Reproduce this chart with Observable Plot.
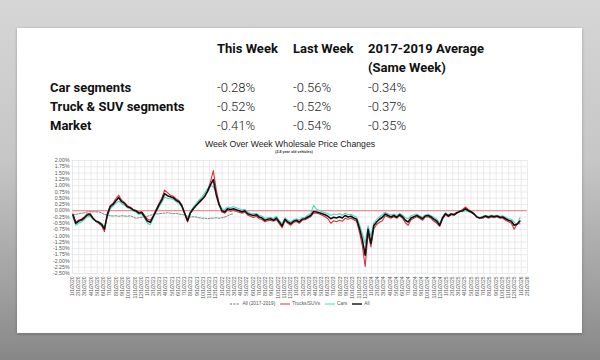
<!DOCTYPE html>
<html>
<head>
<meta charset="utf-8">
<script src="https://cdn.jsdelivr.net/npm/d3@7"></script>
<script src="https://cdn.jsdelivr.net/npm/@observablehq/plot@0.6"></script>
<style>
  html, body { margin: 0; padding: 0; }
  body {
    width: 600px; height: 360px; position: relative; overflow: hidden;
    background: linear-gradient(to bottom, #d6d6d6 0%, #c6c6c6 45%, #a0a0a0 80%, #878787 100%);
    font-family: Roboto, "Liberation Sans", sans-serif;
  }
  #card {
    position: absolute; left: 17px; top: 28px; width: 565px; height: 305px;
    background: #fff; box-shadow: 0 1px 3px rgba(0,0,0,0.25);
  }
  .t { position: absolute; white-space: nowrap; font-size: 13px; line-height: 15px; color: #111; }
  .h { font-weight: 700; }
  .v { font-weight: 300; color: #222; }
  #title { position: absolute; left: 0; width: 580px; top: 139px; text-align: center;
    font-family: "Liberation Sans", Arial, sans-serif; font-size: 8.7px; color: #222; line-height: 10px; }
  #subtitle { position: absolute; left: 0; width: 588px; top: 149.5px; text-align: center;
    font-family: "Liberation Sans", Arial, sans-serif; font-size: 3.6px; color: #333; font-weight: 700; line-height: 4px; }
  #chart { position: absolute; left: 40px; top: 155px; }
  #legend { position: absolute; left: 0; width: 600px; top: 301px; display: flex; justify-content: center; gap: 5px;
    font-family: "Liberation Sans", Arial, sans-serif; font-size: 4.8px; color: #555; line-height: 6px; }
  #legend span.item { display: inline-flex; align-items: center; gap: 2px; }
</style>
</head>
<body>
<div id="card"></div>
<div id="table"></div>
<div id="title">Week Over Week Wholesale Price Changes</div>
<div id="subtitle">(2-8 year old vehicles)</div>
<div id="chart"></div>
<div id="legend"></div>
<script>
// ---- Table data ----
const tableHeaders = ["This Week", "Last Week", "2017-2019 Average"];
const tableHeaderSub = "(Same Week)";
const tableRowLabels = ["Car segments", "Truck & SUV segments", "Market"];
const thisWeek = ["-0.28%", "-0.52%", "-0.41%"];
const lastWeek = ["-0.56%", "-0.52%", "-0.54%"];
const avgSameWeek = ["-0.34%", "-0.37%", "-0.35%"];

// ---- Chart data (bi-weekly readings, % week-over-week) ----
const seriesStart = "2020-01-03";
const seriesStepDays = 14;
const seriesNames = ["All (2017-2019)", "Trucks/SUVs", "Cars", "All"];
const seriesColors = ["#666666", "#e0303f", "#4fd6bd", "#111111"];

const allMarket = [
 -0.17,-0.5,-0.41,-0.37,-0.28,-0.17,-0.15,-0.3,-0.41,-0.46,
 -0.54,-0.73,-0.17,0.16,0.25,0.4,0.52,0.36,0.29,0.16,
 0.12,0.03,-0.01,-0.1,-0.07,-0.24,-0.41,-0.46,-0.24,-0.01,
 0.22,0.42,0.68,0.6,0.56,0.52,0.42,0.36,0.2,-0.1,
 -0.4,-0.08,0.08,0.21,0.34,0.45,0.58,0.77,1.03,1.24,
 0.64,0.24,0,-0.05,0.08,0.05,0.08,0.04,0,-0.05,
 0,-0.12,-0.16,-0.19,-0.16,-0.25,-0.29,-0.38,-0.34,-0.32,
 -0.38,-0.29,-0.45,-0.61,-0.34,-0.45,-0.52,-0.42,-0.38,-0.45,
 -0.34,-0.32,-0.25,-0.19,-0.03,-0.05,-0.08,-0.12,-0.16,-0.22,
 -0.32,-0.26,-0.29,-0.24,-0.29,-0.19,-0.25,-0.22,-0.29,-0.34,
 -0.7,-1.15,-1.77,-0.74,-1.3,-0.6,-0.45,-0.34,-0.26,-0.13,
 -0.19,-0.25,-0.19,-0.26,-0.16,-0.24,-0.38,-0.45,-0.29,-0.24,
 -0.19,-0.25,-0.32,-0.21,-0.19,-0.25,-0.34,-0.42,-0.58,-0.29,
 -0.12,-0.21,-0.13,-0.16,-0.08,-0.03,0,0.08,0,-0.05,
 -0.13,-0.25,-0.29,-0.26,-0.21,-0.26,-0.21,-0.24,-0.21,-0.26,
 -0.25,-0.32,-0.38,-0.42,-0.58,-0.54,-0.41
];
const trucksSUVs = [
 -0.12,-0.45,-0.38,-0.33,-0.25,-0.12,-0.1,-0.28,-0.42,-0.5,
 -0.6,-0.83,-0.12,0.2,0.3,0.48,0.62,0.42,0.33,0.2,
 0.14,0.05,0.02,-0.06,-0.03,-0.18,-0.33,-0.38,-0.2,0.04,
 0.28,0.5,0.82,0.72,0.62,0.58,0.48,0.4,0.24,-0.12,
 -0.45,-0.1,0.06,0.2,0.3,0.42,0.55,0.8,1.15,1.6,
 0.85,0.3,-0.05,-0.1,0.02,-0.02,0.02,-0.03,-0.06,-0.1,
 -0.06,-0.18,-0.22,-0.27,-0.22,-0.32,-0.35,-0.44,-0.4,-0.38,
 -0.42,-0.36,-0.52,-0.68,-0.4,-0.5,-0.58,-0.47,-0.43,-0.5,
 -0.38,-0.36,-0.3,-0.24,-0.1,-0.1,-0.13,-0.18,-0.24,-0.32,
 -0.5,-0.4,-0.44,-0.38,-0.42,-0.3,-0.34,-0.3,-0.36,-0.42,
 -0.85,-1.4,-2.22,-0.9,-1.44,-0.72,-0.55,-0.46,-0.4,-0.2,
 -0.25,-0.3,-0.24,-0.3,-0.2,-0.3,-0.48,-0.58,-0.36,-0.3,
 -0.24,-0.3,-0.38,-0.25,-0.24,-0.3,-0.42,-0.5,-0.62,-0.34,
 -0.15,-0.24,-0.16,-0.18,-0.1,-0.02,0.05,0.15,0.05,-0.02,
 -0.12,-0.26,-0.3,-0.3,-0.24,-0.3,-0.25,-0.28,-0.24,-0.3,
 -0.3,-0.38,-0.44,-0.5,-0.74,-0.52,-0.52
];
const cars = [
 -0.25,-0.58,-0.5,-0.45,-0.35,-0.24,-0.22,-0.35,-0.42,-0.45,
 -0.5,-0.65,-0.25,0.08,0.18,0.3,0.38,0.28,0.22,0.12,
 0.08,0,-0.05,-0.15,-0.12,-0.3,-0.5,-0.56,-0.3,-0.06,
 0.15,0.33,0.55,0.5,0.48,0.45,0.36,0.3,0.15,-0.08,
 -0.36,-0.02,0.14,0.28,0.42,0.55,0.7,0.88,1.0,0.95,
 0.75,0.3,0.08,0.05,0.15,0.12,0.16,0.12,0.08,0.03,
 0.06,-0.05,-0.1,-0.12,-0.1,-0.18,-0.22,-0.3,-0.28,-0.26,
 -0.32,-0.22,-0.38,-0.52,-0.28,-0.38,-0.45,-0.36,-0.32,-0.38,
 -0.28,-0.26,-0.18,-0.1,0.21,0.06,0.02,-0.04,-0.08,-0.12,
 -0.18,-0.14,-0.16,-0.12,-0.18,-0.1,-0.16,-0.14,-0.2,-0.26,
 -0.55,-0.9,-1.3,-0.6,-1.0,-0.48,-0.35,-0.24,-0.16,-0.06,
 -0.12,-0.18,-0.13,-0.2,-0.1,-0.18,-0.28,-0.32,-0.2,-0.16,
 -0.13,-0.2,-0.26,-0.16,-0.14,-0.2,-0.26,-0.34,-0.5,-0.24,
 -0.08,-0.17,-0.1,-0.13,-0.06,-0.04,-0.04,0.02,-0.04,-0.08,
 -0.14,-0.24,-0.27,-0.22,-0.18,-0.22,-0.17,-0.2,-0.18,-0.22,
 -0.2,-0.26,-0.32,-0.34,-0.45,-0.56,-0.28
];
const avg2017to2019 = [
 -0.17,-0.15,-0.12,-0.1,-0.08,-0.05,-0.04,-0.04,-0.05,-0.05,
 -0.08,-0.15,-0.17,-0.2,-0.21,-0.2,-0.22,-0.2,-0.21,-0.22,
 -0.2,-0.25,-0.3,-0.28,-0.26,-0.24,-0.22,-0.18,-0.15,-0.13,
 -0.12,-0.1,-0.1,-0.08,-0.1,-0.12,-0.1,-0.13,-0.15,-0.17,
 -0.22,-0.25,-0.24,-0.25,-0.28,-0.3,-0.3,-0.32,-0.3,-0.3,
 -0.28,-0.3,-0.28,-0.25,-0.2,-0.15,-0.12
];
const yTickValues = [2,1.75,1.5,1.25,1,0.75,0.5,0.25,0,-0.25,-0.5,-0.75,-1,-1.25,-1.5,-1.75,-2,-2.25,-2.5];
const xDomainStart = "2020-01-01", xDomainEnd = "2026-02-01";

// ---- Table rendering ----
const table = document.getElementById("table");
function addText(txt, left, top, cls) {
  const d = document.createElement("div");
  d.className = "t " + cls; d.textContent = txt;
  d.style.left = left + "px"; d.style.top = top + "px";
  table.appendChild(d);
}
const colX = [217, 293, 368];
const headTop = 40.5, subTop = 59.5, rowTops = [79.5, 98.5, 117.5];
tableHeaders.forEach((h, i) => addText(h, colX[i], headTop, "h"));
addText(tableHeaderSub, colX[2], subTop, "h");
tableRowLabels.forEach((l, r) => {
  addText(l, 50, rowTops[r], "h");
  addText(thisWeek[r], colX[0], rowTops[r], "v");
  addText(lastWeek[r], colX[1], rowTops[r], "v");
  addText(avgSameWeek[r], colX[2], rowTops[r], "v");
});

// ---- Chart ----
const start = new Date(seriesStart + "T00:00:00Z");
const toRows = (arr, name) => arr.map((v, i) => ({date: d3.utcDay.offset(start, seriesStepDays * i), value: v, series: name}));
const rowsAvg = toRows(avg2017to2019, seriesNames[0]);
const rowsTrucks = toRows(trucksSUVs, seriesNames[1]);
const rowsCars = toRows(cars, seriesNames[2]);
const rowsAll = toRows(allMarket, seriesNames[3]);

const x0 = new Date(xDomainStart + "T00:00:00Z"), x1 = new Date(xDomainEnd + "T00:00:00Z");
const monthTicks = d3.utcMonth.range(x0, d3.utcDay.offset(x1, 1));
const fmtMonth = d => `${d.getUTCMonth() + 1}/${d.getUTCDate()}/${d.getUTCFullYear()}`;

const chart = Plot.plot({
  width: 492, height: 155,
  marginLeft: 32, marginRight: 5, marginTop: 5, marginBottom: 37,
  x: {type: "utc", domain: [x0, x1]},
  y: {domain: [-2.5, 2]},
  style: {fontFamily: "Liberation Sans, Arial, sans-serif", fontSize: "5px", color: "#555", background: "transparent", overflow: "visible"},
  marks: [
    Plot.gridX(monthTicks, {stroke: "#dedede", strokeOpacity: 1, strokeWidth: 0.6}),
    Plot.gridY(yTickValues, {stroke: "#dedede", strokeOpacity: 1, strokeWidth: 0.6}),
    Plot.axisY(yTickValues, {tickFormat: d => d.toFixed(2) + "%", tickSize: 0, tickPadding: 3, fontSize: 5.2, label: null}),
    Plot.axisX(monthTicks, {tickFormat: fmtMonth, tickRotate: -90, tickSize: 0, tickPadding: 3, fontSize: 5, label: null}),
    Plot.ruleY([0], {stroke: "#e06060", strokeWidth: 0.8}),
    Plot.line(rowsAvg, {x: "date", y: "value", stroke: seriesColors[0], strokeWidth: 0.8, strokeDasharray: "2,1.3"}),
    Plot.line(rowsCars, {x: "date", y: "value", stroke: seriesColors[2], strokeWidth: 1.1}),
    Plot.line(rowsTrucks, {x: "date", y: "value", stroke: seriesColors[1], strokeWidth: 1.1}),
    Plot.line(rowsAll, {x: "date", y: "value", stroke: seriesColors[3], strokeWidth: 1.6})
  ]
});
document.getElementById("chart").appendChild(chart);

// ---- Legend ----
const legend = document.getElementById("legend");
seriesNames.forEach((name, i) => {
  const item = document.createElement("span");
  item.className = "item";
  const dash = i === 0 ? 'stroke-dasharray="2,1.3"' : "";
  const w = i === 3 ? 1.4 : 1;
  item.innerHTML = `<svg width="10" height="4"><line x1="0" y1="2" x2="10" y2="2" stroke="${seriesColors[i]}" stroke-width="${w}" ${dash}/></svg><span>${name}</span>`;
  legend.appendChild(item);
});
</script>
</body>
</html>
